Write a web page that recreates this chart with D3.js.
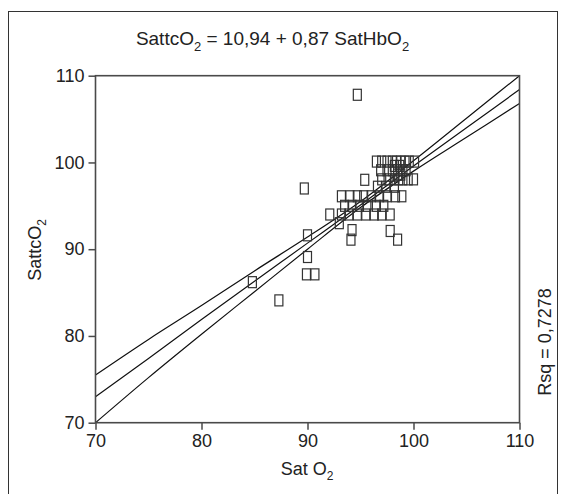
<!DOCTYPE html>
<html><head><meta charset="utf-8">
<script src="https://cdn.jsdelivr.net/npm/d3@7"></script>
<style>body{margin:0;background:#fff}svg{display:block}text{font-family:"Liberation Sans",Arial,sans-serif;fill:#222}</style>
</head><body><svg id="c" width="566" height="494"></svg>
<script>
// Data
const xTicks = [70, 80, 90, 100, 110];
const yTicks = [70, 80, 90, 100, 110];
const satO2 = [94.7,89.7,90.0,90.0,89.9,90.7,84.8,87.3,92.1,93.0,93.2,93.9,94.7,95.5,96.3,97.0,97.8,
  93.5,94.2,94.9,95.6,96.5,97.2,93.2,94.0,94.7,95.3,96.0,96.8,97.5,98.3,98.9,95.4,94.2,94.1,97.8,98.5,
  96.5,97.0,97.5,98.0,98.4,98.8,99.2,99.6,100.1,
  96.9,97.5,98.0,98.5,99.0,99.3,98.2,98.7,
  97.0,97.6,98.2,98.6,99.0,99.5,100.0,
  96.6,97.4,98.2,98.5,98.8];
const sattcO2 = [107.8,97.0,91.6,89.1,87.1,87.1,86.2,84.1,94.0,93.0,94.0,94.0,94.0,94.0,94.0,94.0,94.0,
  95.0,95.0,95.0,95.0,95.0,95.0,96.1,96.1,96.1,96.1,96.1,96.1,96.1,96.1,96.1,98.0,92.2,91.1,92.1,91.1,
  100.1,100.1,100.1,100.1,100.1,100.1,100.1,100.1,100.1,
  99.1,99.1,99.1,99.1,99.1,99.1,99.6,99.6,
  98.05,98.05,98.05,98.05,98.05,98.05,98.05,
  97.2,97.2,97.2,98.6,98.6];
const fitX = [70, 75, 80, 85, 90, 95, 100, 105, 110];
const fitMid = [73.0, 77.4, 81.9, 86.3, 90.7, 95.1, 99.6, 104.0, 108.4];
const fitUpper = [75.5, 79.6, 83.5, 87.5, 91.4, 95.5, 100.2, 105.1, 110.0];
const fitLower = [70.0, 75.2, 80.2, 85.1, 90.0, 94.8, 99.0, 102.9, 106.8];

const svg = d3.select('#c');
const x = d3.scaleLinear().domain([70,110]).range([95.5,519.5]);
const y = d3.scaleLinear().domain([70,110]).range([422.7,75.7]);

// outer border
svg.append('rect').attr('x',8.5).attr('y',11.5).attr('width',549).attr('height',500)
  .attr('fill','none').attr('stroke','#333').attr('stroke-width',1);

// title
const t = svg.append('text').attr('x',272.5).attr('y',45).attr('text-anchor','middle').attr('font-size',19);
t.append('tspan').text('SattcO');
t.append('tspan').attr('font-size',13).attr('dy',6).text('2');
t.append('tspan').attr('dy',-6).text(' = 10,94 + 0,87 SatHbO');
t.append('tspan').attr('font-size',13).attr('dy',6).text('2');

svg.append('defs').append('clipPath').attr('id','clip').append('rect')
  .attr('x',x(70)).attr('y',y(110)).attr('width',x(110)-x(70)).attr('height',y(70)-y(110));

const g = svg.append('g').attr('clip-path','url(#clip)');
const line = d3.line().x(d=>x(d[0])).y(d=>y(d[1])).curve(d3.curveMonotoneX);
[fitUpper, fitMid, fitLower].forEach(s=>{
  g.append('path').datum(fitX.map((v,i)=>[v,s[i]])).attr('d',line)
   .attr('fill','none').attr('stroke','#111').attr('stroke-width',1.2);
});

// points
svg.append('g').selectAll('rect').data(satO2.map((v,i)=>[v,sattcO2[i]])).join('rect')
  .attr('x',d=>x(d[0])-4).attr('y',d=>y(d[1])-5.5).attr('width',8).attr('height',11)
  .attr('fill','none').attr('stroke','#333').attr('stroke-width',1.2);

// frame
svg.append('rect').attr('x',x(70)).attr('y',y(110)).attr('width',x(110)-x(70)).attr('height',y(70)-y(110))
  .attr('fill','none').attr('stroke','#4a4a4a').attr('stroke-width',1.6);

// axes
const xa = svg.append('g').attr('transform',`translate(0,${y(70)})`)
  .call(d3.axisBottom(x).tickValues(xTicks).tickSize(7).tickPadding(5).tickSizeOuter(0));
const ya = svg.append('g').attr('transform',`translate(${x(70)},0)`)
  .call(d3.axisLeft(y).tickValues(yTicks).tickSize(7).tickPadding(4).tickSizeOuter(0));
[xa,ya].forEach(a=>{
  a.select('.domain').remove();
  a.selectAll('line').attr('stroke','#4a4a4a').attr('stroke-width',1.5);
  a.selectAll('text').attr('font-size',18).attr('font-family','"Liberation Sans",Arial,sans-serif').attr('fill','#222');
});

// axis labels
const xl = svg.append('text').attr('x',307).attr('y',475).attr('text-anchor','middle').attr('font-size',18);
xl.append('tspan').text('Sat O');
xl.append('tspan').attr('font-size',12).attr('dy',5).text('2');

const yl = svg.append('text').attr('transform','translate(41,250) rotate(-90)').attr('text-anchor','middle').attr('font-size',18);
yl.append('tspan').text('SattcO');
yl.append('tspan').attr('font-size',12).attr('dy',5).text('2');

svg.append('text').attr('transform','translate(551,342) rotate(-90)').attr('text-anchor','middle')
  .attr('font-size',18).text('Rsq = 0,7278');
</script></body></html>
